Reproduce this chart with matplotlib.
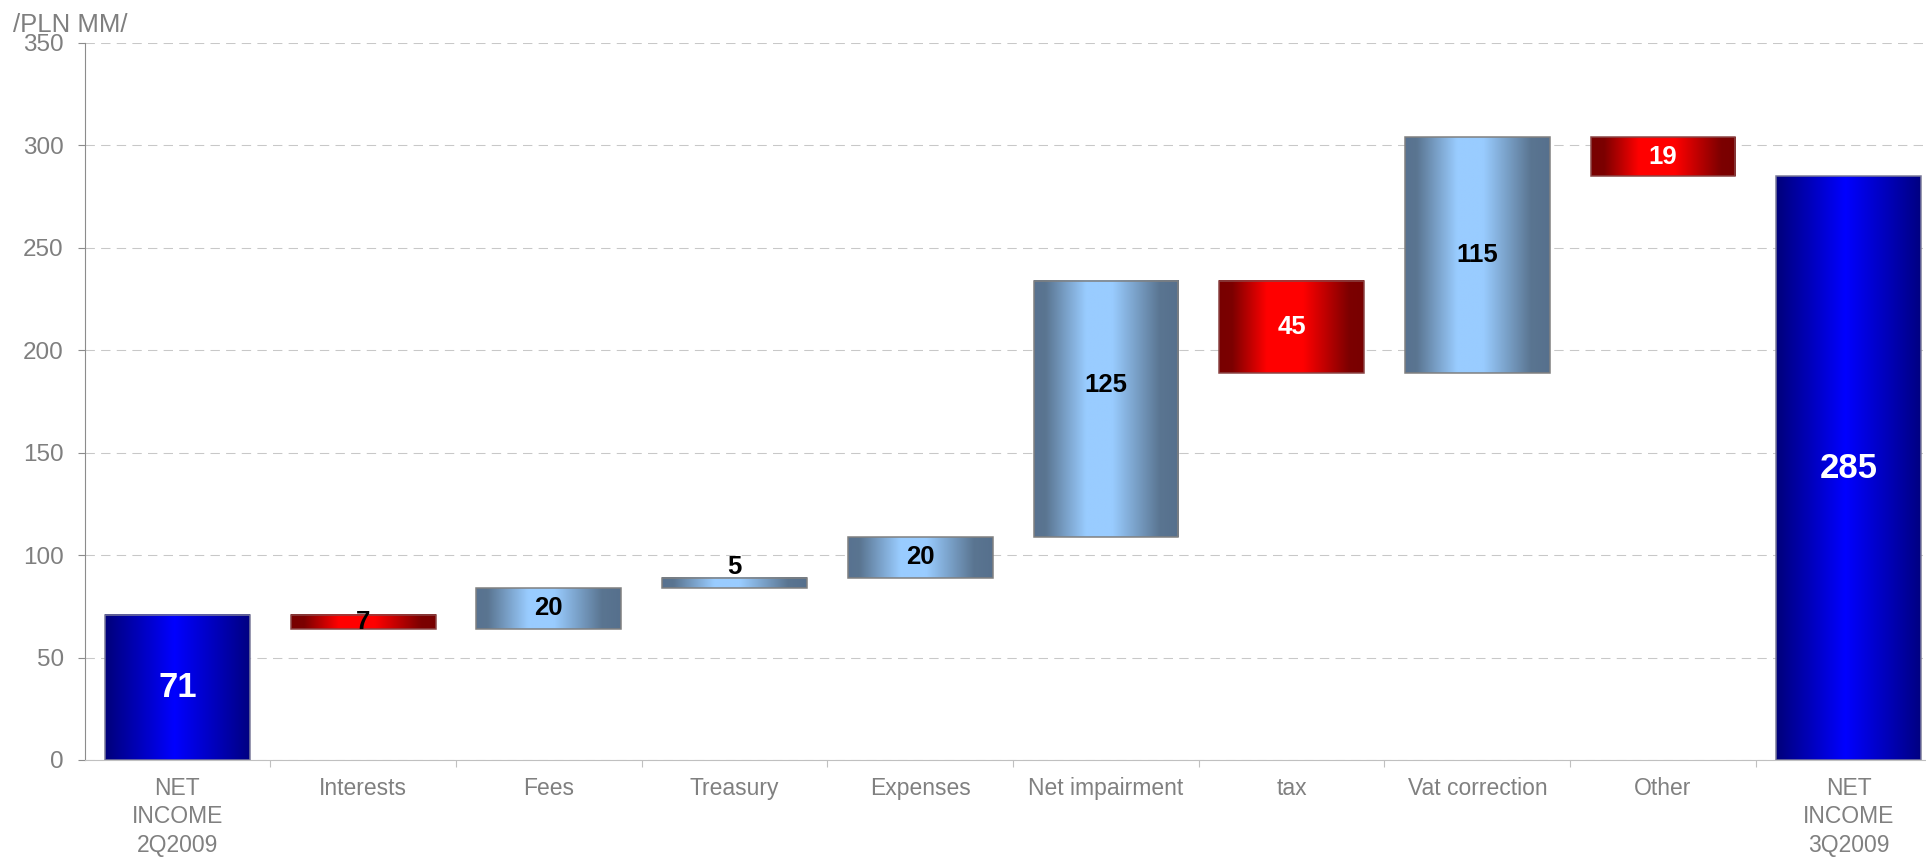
import matplotlib
matplotlib.use('Agg')
import matplotlib.pyplot as plt
import numpy as np
from matplotlib.colors import LinearSegmentedColormap

categories = ['NET\nINCOME\n2Q2009', 'Interests', 'Fees', 'Treasury', 'Expenses',
              'Net impairment', 'tax', 'Vat correction', 'Other', 'NET\nINCOME\n3Q2009']
opening = 71
changes = [-7, 20, 5, 20, 125, -45, 115, -19]
closing = 285
y_ticks = [0, 50, 100, 150, 200, 250, 300, 350]
unit_label = '/PLN MM/'

plt.rcParams['font.family'] = ['Liberation Sans', 'DejaVu Sans']

# build the waterfall: floating bars between running totals
values = [opening] + changes + [closing]
bottoms, heights, kinds = [0], [opening], ['total']
level = opening
for d in changes:
    lo, hi = sorted([level, level + d])
    bottoms.append(lo)
    heights.append(hi - lo)
    kinds.append('up' if d > 0 else 'down')
    level += d
bottoms.append(0)
heights.append(closing)
kinds.append('total')

shades = {
    'total': LinearSegmentedColormap.from_list(
        'total', [(0, '#00007a'), (0.48, '#0000ff'), (1, '#000082')]),
    'up': LinearSegmentedColormap.from_list(
        'up', [(0, '#587290'), (0.08, '#5a7591'), (0.36, '#99ccff'),
               (0.54, '#99ccff'), (0.87, '#5a7591'), (1, '#56708d')]),
    'down': LinearSegmentedColormap.from_list(
        'down', [(0, '#780000'), (0.09, '#7c0000'), (0.33, '#ff0000'),
                 (0.58, '#ff0000'), (0.9, '#7c0000'), (1, '#780000')]),
}
edges = {'total': '#7a7a9a', 'up': '#808080', 'down': '#8b4545'}

fig = plt.figure(figsize=(19.26, 8.57), dpi=100)
ax = fig.add_axes([0.0439, 0.1132, 0.9642, 0.8368])

x = np.arange(len(categories))
bars = ax.bar(x, heights, 0.78, bottom=bottoms, facecolor='none',
              edgecolor=[edges[k] for k in kinds], linewidth=1.1, zorder=3)

# horizontal shading inside each bar
grad = np.linspace(0, 1, 256).reshape(1, -1)
for bar, kind in zip(bars, kinds):
    x0, y0 = bar.get_x(), bar.get_y()
    ax.imshow(grad, cmap=shades[kind], aspect='auto', interpolation='bilinear',
              extent=[x0, x0 + bar.get_width(), y0, y0 + bar.get_height()], zorder=2)

# value labels
label_nudge = {5: 11.5}
for i, (v, b, h, k) in enumerate(zip(values, bottoms, heights, kinds)):
    big = k == 'total'
    color = 'white' if (big or (k == 'down' and h >= 10)) else 'black'
    size = 25 if big else 18.5
    if h < 6:
        ax.text(i, b + h + 2, str(abs(v)), ha='center', va='baseline',
                fontsize=size, fontweight='bold', color=color, zorder=4)
    else:
        ax.text(i, b + h / 2 + label_nudge.get(i, 0), str(abs(v)), ha='center',
                va='center', fontsize=size, fontweight='bold', color=color, zorder=4)

ax.set_xlim(-0.5, len(categories) - 0.5)
ax.set_ylim(0, 350)
ax.set_yticks(y_ticks)
ax.set_xticks(x)
ax.set_xticklabels(categories, linespacing=1.32)
ax.set_xticks(x[:-1] + 0.5, minor=True)
ax.tick_params(axis='x', which='major', length=0, pad=12, labelsize=16.5, labelcolor='#808080')
ax.tick_params(axis='x', which='minor', length=5, width=0.8, color='#c0c0c0')
ax.tick_params(axis='y', length=5, width=0.8, color='#8c8c8c', pad=10,
               labelsize=17.5, labelcolor='#7f7f7f')

ax.yaxis.grid(True, color='#c8c8c8', linestyle=(0, (9, 6)), linewidth=0.75)
ax.set_axisbelow(True)
for side in ['top', 'right']:
    ax.spines[side].set_visible(False)
ax.spines['left'].set_color('#8c8c8c')
ax.spines['left'].set_linewidth(0.8)
ax.spines['bottom'].set_color('#c0c0c0')
ax.spines['bottom'].set_linewidth(0.8)

fig.text(0.0066, 0.963, unit_label, fontsize=18.5, color='#7f7f7f', va='baseline')

fig.savefig('out.png', dpi=100)
